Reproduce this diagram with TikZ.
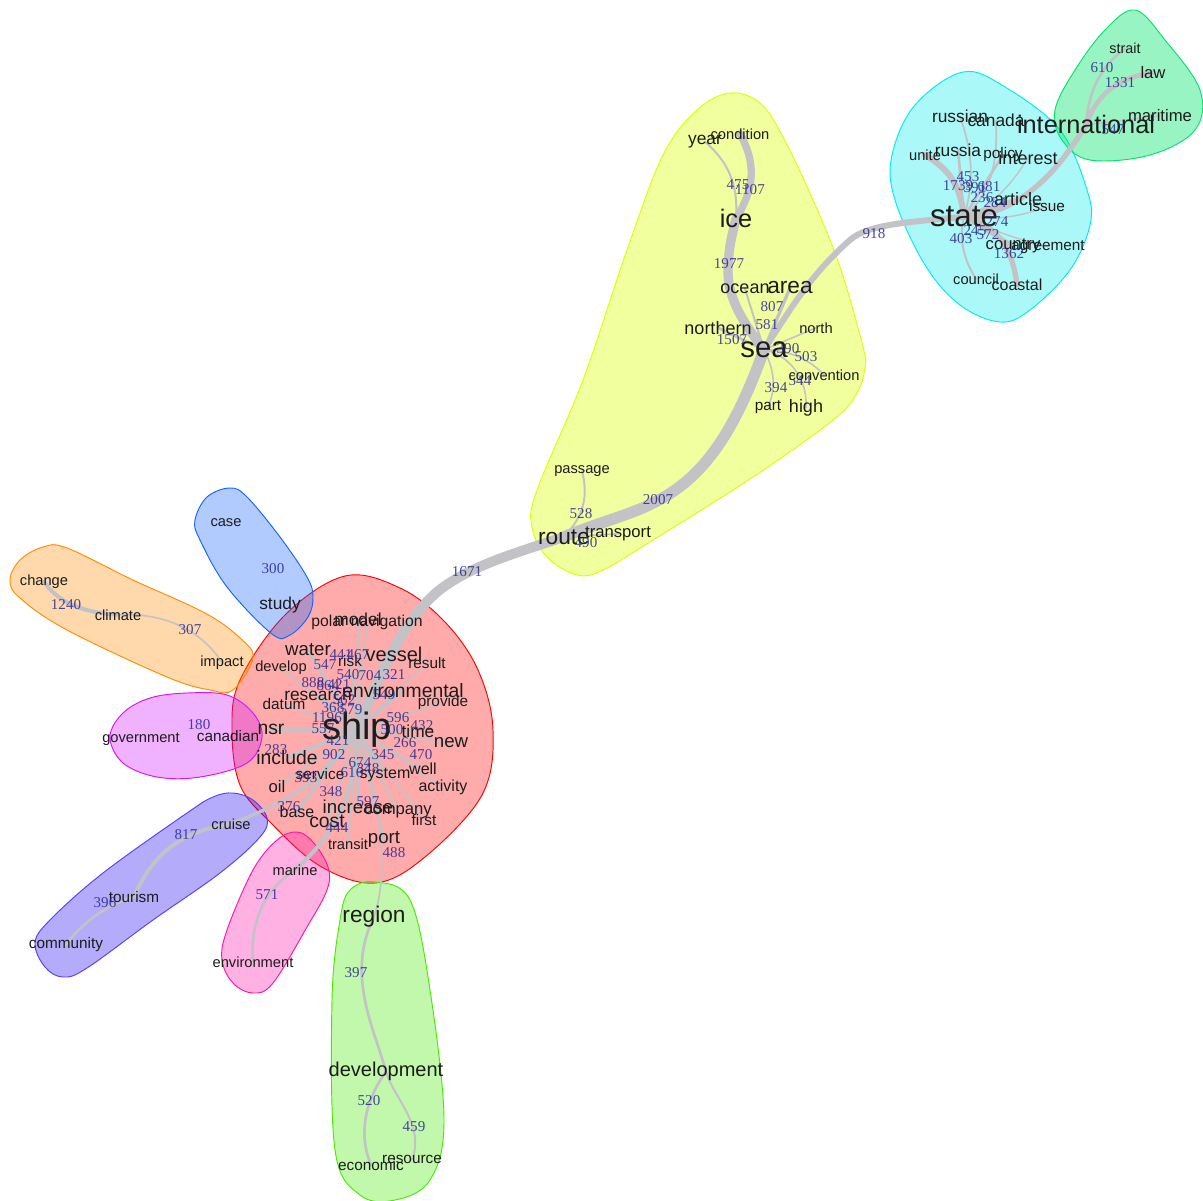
\documentclass[tikz,border=0pt]{standalone}
\usepackage{fontspec}
\setmainfont{Liberation Sans}
\newfontfamily\labfont{Liberation Serif}
\definecolor{edgegray}{RGB}{194,194,199}
\definecolor{wordc}{RGB}{28,28,28}
\definecolor{labc}{RGB}{40,40,145}
\definecolor{bred}{RGB}{255,0,0}
\definecolor{byel}{RGB}{222,255,0}
\definecolor{bcya}{RGB}{0,235,235}
\definecolor{bmin}{RGB}{0,228,105}
\definecolor{bblu}{RGB}{20,100,255}
\definecolor{bora}{RGB}{255,140,0}
\definecolor{bmag}{RGB}{210,20,255}
\definecolor{bvio}{RGB}{30,0,240}
\definecolor{bpin}{RGB}{255,20,170}
\definecolor{bgre}{RGB}{70,235,0}
\pgfdeclarelayer{blobs}
\pgfdeclarelayer{edges}
\pgfsetlayers{blobs,edges,main}
\tikzset{
  wd/.style={inner sep=0pt,text=wordc,yshift=-.6pt,font=\fontsize{#1}{#1}\selectfont},
  lab/.style={inner sep=0pt,text=labc,text opacity=.85,font=\labfont\fontsize{11.3}{11.3}\selectfont},
  ed/.style={draw=edgegray,line width=#1,line cap=round},
  faint/.style={draw=edgegray,draw opacity=.15,line width=1pt},
  blob/.style={draw=#1,fill=#1,fill opacity=.33,line width=.7pt,smooth cycle,tension=.6}
}
\newcommand{\WW}[5]{\node[wd=#4] (#1) at (#2,#3) {#5};}
\begin{document}
\begin{tikzpicture}[x=.75pt,y=-.75pt]
\useasboundingbox (0,0) rectangle (1203,1200);
\begin{pgfonlayer}{blobs}
\fill[white] (0,0) rectangle (1203,1200);
\draw[blob=bred] plot coordinates {(345,576)(400,588)(445,622)(478,670)(493,730)(482,795)(425,857)(375,883)(320,866)(270,822)(240,785)(232,730)(240,680)(285,615)};
\draw[blob=byel,fill opacity=.38] plot coordinates {(730,93)(760,103)(783,137)(813,200)(840,267)(863,347)(865,367)(857,393)(833,420)(753,477)(653,540)(603,570)(577,575)(547,557)(532,527)(537,490)(583,380)(627,250)(663,155)(697,110)};
\draw[blob=bcya] plot coordinates {(963,72)(1005,87)(1060,130)(1087,190)(1090,225)(1070,270)(1030,310)(1000,322)(960,305)(925,265)(895,200)(892,155)(915,105)};
\draw[blob=bmin,fill opacity=.4] plot coordinates {(1135,10)(1165,40)(1200,90)(1195,130)(1150,155)(1090,160)(1062,140)(1055,110)(1075,70)(1105,30)};
\draw[blob=bblu] plot coordinates {(230,488)(247,497)(280,537)(307,577)(313,597)(308,617)(290,635)(272,634)(227,587)(200,540)(195,520)(207,497)};
\draw[blob=bora] plot coordinates {(43,547)(67,548)(133,580)(205,613)(240,638)(253,658)(233,690)(210,690)(167,677)(67,630)(20,598)(10,580)(20,560)};
\draw[blob=bmag] plot coordinates {(187,693)(227,695)(253,713)(262,737)(247,763)(200,777)(157,777)(123,763)(110,737)(123,713)(150,698)};
\draw[blob=bvio,draw=bvio!75!white] plot coordinates {(233,793)(253,800)(267,818)(260,837)(220,873)(153,920)(87,968)(63,977)(45,967)(35,943)(50,920)(103,873)(187,813)(213,797)};
\draw[blob=bpin] plot coordinates {(297,832)(313,842)(328,867)(327,890)(307,927)(273,983)(253,993)(233,983)(222,960)(227,930)(253,870)(277,840)};
\draw[blob=bgre] plot coordinates {(375,882)(410,900)(430,990)(444,1120)(430,1180)(395,1200)(360,1195)(335,1150)(332,1000)(340,920)(350,890)};
\end{pgfonlayer}

% words
\WW{strait}{1125}{48}{10.8}{strait}
\WW{law}{1153}{72}{12.5}{law}
\WW{maritime}{1160}{115}{12.5}{maritime}
\WW{international}{1086}{124}{19}{international}
\WW{russian}{960}{116}{13}{russian}
\WW{canada}{996}{120}{13}{canada}
\WW{unite}{925}{154}{11}{unite}
\WW{russia}{958}{149}{13}{russia}
\WW{policy}{1003}{154}{11.5}{policy}
\WW{interest}{1028}{157}{13.5}{interest}
\WW{article}{1018}{198}{13.5}{article}
\WW{issue}{1047}{205}{11.5}{issue}
\WW{state}{964}{216}{23.5}{state}
\WW{country}{1013}{245}{12.5}{country}
\WW{agreement}{1048}{246}{11.5}{agreement}
\WW{council}{976}{278}{11}{council}
\WW{coastal}{1017}{284}{12}{coastal}
\WW{year}{705}{141}{13}{year}
\WW{condition}{740}{133}{11}{condition}
\WW{ice}{736}{218}{19}{ice}
\WW{ocean}{745}{288}{13.5}{ocean}
\WW{area}{790}{287}{17}{area}
\WW{northern}{718}{327}{13.5}{northern}
\WW{north}{816}{327}{11}{north}
\WW{sea}{764}{349}{22}{sea}
\WW{convention}{824}{374}{11}{convention}
\WW{part}{768}{406}{11.5}{part}
\WW{high}{806}{407}{13.5}{high}
\WW{passage}{582}{470}{11}{passage}
\WW{route}{564}{536}{17}{route}
\WW{transport}{618}{533}{12.5}{transport}
\WW{case}{226}{522}{11}{case}
\WW{study}{280}{604}{13}{study}
\WW{change}{44}{581}{11}{change}
\WW{climate}{118}{614}{11}{climate}
\WW{impact}{222}{662}{11}{impact}
\WW{polarnav}{367}{622}{11.8}{polar navigation}
\WW{model}{358}{618}{13}{model}
\WW{water}{308}{649}{14}{water}
\WW{vessel}{394}{654}{15}{vessel}
\WW{develop}{281}{667}{11}{develop}
\WW{risk}{350}{660}{11.5}{risk}
\WW{result}{427}{662}{11.5}{result}
\WW{research}{318}{693}{13}{research}
\WW{environmental}{403}{690}{14.5}{environmental}
\WW{datum}{284}{703}{11.5}{datum}
\WW{provide}{443}{702}{11.5}{provide}
\WW{nsr}{271}{729}{14.5}{nsr}
\WW{ship}{357}{729}{28.5}{ship}
\WW{canadian}{228}{735}{11.5}{canadian}
\WW{government}{141}{738}{11}{government}
\WW{time}{418}{730}{13}{time}
\WW{new}{451}{742}{14}{new}
\WW{include}{287}{757}{14.5}{include}
\WW{service}{320}{773}{11.5}{service}
\WW{system}{385}{774}{12}{system}
\WW{well}{423}{768}{12}{well}
\WW{activity}{443}{787}{12}{activity}
\WW{oil}{277}{786}{12.5}{oil}
\WW{increase}{358}{806}{14}{increase}
\WW{company}{398}{811}{12.5}{company}
\WW{base}{297}{811}{12}{base}
\WW{cost}{327}{821}{14.5}{cost}
\WW{first}{424}{819}{11.5}{first}
\WW{cruise}{231}{823}{11}{cruise}
\WW{transit}{348}{843}{11}{transit}
\WW{port}{384}{839}{14}{port}
\WW{marine}{295}{869}{11}{marine}
\WW{tourism}{134}{896}{11.5}{tourism}
\WW{community}{66}{944}{11.5}{community}
\WW{environment}{253}{961}{11}{environment}
\WW{region}{374}{916}{17}{region}
\WW{development}{386}{1071}{15}{development}
\WW{economic}{371}{1164}{11.5}{economic}
\WW{resource}{412}{1159}{11.5}{resource}

% edge labels
\foreach \x/\y/\t in {
 1102/68/610, 1120/83/1331, 1113/130/547, 968/177/453, 958/186/1739, 975/188/391, 989/187/681,
 982/198/236, 995/203/284, 997/222/274, 975/231/245, 988/235/572, 961/239/403, 1009/254/1362,
 874/234/918, 738/185/475, 750/190/1107, 729/264/1977, 772/307/807, 767/325/581, 732/340/1507,
 788/349/390, 806/357/503, 800/381/544, 776/388/394, 658/500/2007, 581/514/528, 586/543/490,
 467/572/1671, 273/569/300, 66/605/1240, 190/630/307, 199/725/180, 186/835/817, 105/903/396,
 267/895/571, 356/973/397, 369/1101/520, 414/1127/459,
 325/665/547, 341/655/441, 358/655/467, 348/675/540, 370/676/704, 394/675/321, 313/683/888,
 328/686/864, 339/685/421, 344/700/562, 384/695/549, 333/708/368, 351/710/579, 327/718/1196,
 323/729/557, 398/718/596, 422/726/432, 392/730/500, 338/741/421, 405/743/266, 334/755/902,
 383/755/345, 421/755/470, 276/750/283, 360/763/674, 368/769/348, 352/773/616, 306/778/393,
 331/792/348, 289/807/376, 368/802/597, 337/828/444, 394/853/488}
 {\node[lab] (e\x-\y) at (\x,\y) {\t};}

\begin{pgfonlayer}{edges}
% trunk
\draw[ed=7.5pt] (ship.center) .. controls (385,665) and (400,625) .. (437,592) .. controls (470,565) and (520,552) .. (route.center);
\draw[ed=8.5pt] (route.center) .. controls (600,522) and (630,515) .. (653,503) .. controls (705,478) and (735,430) .. (sea.center);
\draw[ed=4.5pt] (sea.center) .. controls (790,310) and (810,275) .. (850,240) .. controls (868,224) and (910,222) .. (state.center);
\draw[ed=7pt] (sea.center) .. controls (745,325) and (728,300) .. (728,272) .. controls (728,250) and (732,235) .. (ice.center);
\draw[ed=5.5pt] (ice.center) .. controls (750,195) and (760,170) .. (condition.center);
\draw[ed=1.5pt] (ice.center) .. controls (738,190) and (732,165) .. (year.center);
\draw[ed=2.5pt] (sea.center) -- (area.center);
\draw[ed=1.5pt] (sea.center) -- (ocean.center);
\draw[ed=2pt] (sea.center) -- (northern.center);
\draw[ed=1.2pt] (sea.center) -- (north.center);
\draw[ed=1.2pt] (sea.center) .. controls (790,350) and (810,360) .. (convention.center);
\draw[ed=1.2pt] (sea.center) .. controls (772,365) and (778,385) .. (part.center);
\draw[ed=1.2pt] (sea.center) .. controls (790,355) and (808,380) .. (high.center);
\draw[ed=1.5pt] (route.center) .. controls (585,515) and (588,495) .. (passage.center);
\draw[ed=1.2pt] (route.center) -- (transport.center);
% state
\draw[ed=4pt] (state.center) .. controls (1010,215) and (1050,185) .. (international.center);
\draw[ed=4.5pt] (state.center) .. controls (960,185) and (950,170) .. (unite.center);
\draw[ed=2pt] (state.center) -- (russia.center);
\draw[ed=1.3pt] (state.center) .. controls (975,180) and (972,150) .. (russian.center);
\draw[ed=1.3pt] (state.center) .. controls (990,195) and (998,165) .. (canada.center);
\draw[ed=2pt] (state.center) -- (policy.center);
\draw[ed=1pt] (state.center) .. controls (990,210) and (1015,180) .. (interest.center);
\draw[ed=3pt] (state.center) -- (article.center);
\draw[ed=1pt] (state.center) .. controls (990,222) and (1030,215) .. (issue.center);
\draw[ed=3pt] (state.center) -- (country.center);
\draw[ed=1pt] (state.center) .. controls (990,230) and (1020,240) .. (agreement.center);
\draw[ed=1.5pt] (state.center) .. controls (958,240) and (965,262) .. (council.center);
\draw[ed=4pt] (state.center) .. controls (995,225) and (1012,245) .. (coastal.center);
\draw[ed=2pt] (international.center) .. controls (1088,100) and (1095,70) .. (strait.center);
\draw[ed=3.5pt] (international.center) .. controls (1095,100) and (1112,78) .. (law.center);
\draw[ed=1pt] (international.center) -- (maritime.center);
% ship spokes
\foreach \n/\w in {polarnav/1.2,model/1.5,water/2,vessel/3.5,develop/1.2,risk/1.5,result/1.2,research/2,environmental/2,datum/1.5,provide/1.2,nsr/3.5,time/1.5,new/1.5,include/3,service/2,system/2,well/1.2,activity/1.2,oil/1.5,increase/2,company/1.5,base/2.5,cost/1.5,first/1.2,transit/1.5,port/1.5}
 {\draw[ed=\w pt] (ship.center) -- (\n.center);}
\draw[faint] (ship.center) .. controls (320,680) and (290,640) .. (study.center);
\draw[faint] (ship.center) -- (impact.center);
\draw[faint] (ship.center) -- (canadian.center);
\draw[ed=2.5pt] (ship.center) .. controls (330,780) and (280,805) .. (cruise.center);
\draw[ed=3pt] (ship.center) .. controls (355,790) and (340,830) .. (marine.center);
\draw[ed=1.2pt] (ship.center) .. controls (380,800) and (390,870) .. (region.center);
% satellites
\draw[faint] (study.center) .. controls (275,570) and (250,540) .. (case.center);
\draw[ed=3pt] (change.center) .. controls (57,600) and (77,612) .. (climate.center);
\draw[ed=1.2pt] (climate.center) .. controls (170,612) and (205,635) .. (impact.center);
\draw[faint] (canadian.center) .. controls (190,725) and (170,730) .. (government.center);
\draw[ed=3pt] (cruise.center) .. controls (175,832) and (150,860) .. (tourism.center);
\draw[ed=2pt] (tourism.center) .. controls (105,905) and (80,925) .. (community.center);
\draw[ed=2pt] (marine.center) .. controls (265,890) and (250,920) .. (environment.center);
\draw[ed=2pt] (region.center) .. controls (345,975) and (375,1030) .. (development.center);
\draw[ed=2pt] (development.center) .. controls (365,1100) and (358,1135) .. (economic.center);
\draw[ed=1.5pt] (development.center) .. controls (395,1100) and (425,1125) .. (resource.center);
\end{pgfonlayer}
\end{tikzpicture}
\end{document}
